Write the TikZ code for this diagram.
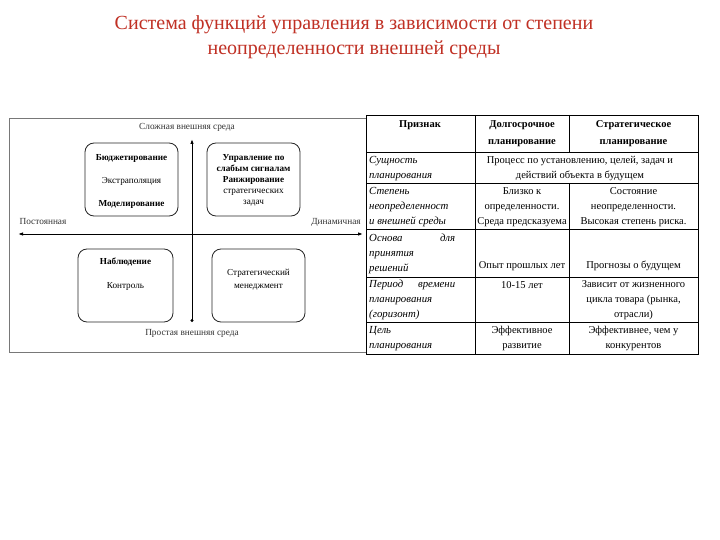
\documentclass[tikz,border=0pt]{standalone}
\usepackage{fontspec}
\setmainfont{Liberation Serif}
\usetikzlibrary{arrows.meta}
\definecolor{titlered}{RGB}{192,48,36}
\definecolor{panelgray}{RGB}{120,120,120}
\begin{document}
\begin{tikzpicture}[x=1pt,y=-1pt,
  titletxt/.style={font=\fontsize{20}{25}\selectfont, text=titlered, align=center, inner sep=0},
  paneltxt/.style={font=\fontsize{9.3}{10}\selectfont, text=black!80, inner sep=0},
  fbox/.style={draw=black!85, rounded corners=9pt, line width=0.8pt, minimum width=#1, minimum height=73pt, inner sep=0},
  boxtxt/.style={font=\fontsize{9.2}{11}\selectfont, align=center, inner sep=0},
  tabtxt/.style={font=\fontsize{10.5}{15}\selectfont, align=center, inner sep=0},
  itxt/.style={font=\fontsize{10.8}{15}\selectfont\itshape, align=left, anchor=west, inner sep=0},
  tline/.style={draw=black, line width=0.7pt},
  axis/.style={draw=black, line width=1pt}
]
\useasboundingbox (0,0) rectangle (720,540);
\fill[white] (0,0) rectangle (720,540);

% title
\node[titletxt] (title) at (354,37) {Система функций управления в зависимости от степени\\неопределенности внешней среды};

% left panel
\draw[panelgray, line width=0.8pt] (9,118) rectangle (366,352);
\node[paneltxt] (complex) at (187,127) {Сложная внешняя среда};
\node[paneltxt] (simple) at (192,333) {Простая внешняя среда};
\node[paneltxt] (const) at (43,222) {Постоянная};
\node[paneltxt] (dyn) at (336,222) {Динамичная};

\coordinate (vtop) at (192,139);
\coordinate (vbot) at (192,322);
\coordinate (hl) at (18,234);
\coordinate (hr) at (363,234);
\draw[axis, {Circle[length=3pt]}-{Latex[length=5pt,width=3.5pt]}] (vbot) -- (vtop);
\draw[axis, {Latex[length=5pt,width=3.5pt]}-{Latex[length=5pt,width=3.5pt]}] (hl) -- (hr);

\node[fbox=93pt] (tl) at (131.5,179.5) {};
\node[fbox=93pt] (tr) at (253.5,179.5) {};
\node[fbox=95pt] (bl) at (125.5,285.5) {};
\node[fbox=93pt] (br) at (258.5,285.5) {};

\node[boxtxt, font=\fontsize{9.2}{23}\selectfont] (tlt) at (131.5,181) {\textbf{Бюджетирование}\\Экстраполяция\\\textbf{Моделирование}};
\node[boxtxt] (trt) at (253.5,180) {\textbf{Управление по}\\\textbf{слабым сигналам}\\\textbf{Ранжирование}\\стратегических\\задач};
\node[boxtxt, font=\fontsize{9.2}{24}\selectfont] (blt) at (125.5,274) {\textbf{Наблюдение}\\Контроль};
\node[boxtxt, font=\fontsize{9.2}{13}\selectfont] (brt) at (258.5,279.5) {Стратегический\\менеджмент};

% table grid
\draw[tline] (366,115) rectangle (698,354);
\foreach \yy in {152,183,229,277,322} \draw[tline] (366,\yy) -- (698,\yy);
\draw[tline] (475,115) -- (475,354);
\draw[tline] (569,115) -- (569,152);
\draw[tline] (569,183) -- (569,354);

% header
\node[tabtxt, font=\fontsize{10.5}{17}\selectfont\bfseries] (h1) at (420,125) {Признак};
\node[tabtxt, font=\fontsize{10.5}{17}\selectfont\bfseries] (h2) at (522,133.5) {Долгосрочное\\планирование};
\node[tabtxt, font=\fontsize{10.5}{17}\selectfont\bfseries] (h3) at (633.5,133.5) {Стратегическое\\планирование};

% row 1
\node[itxt] (r1a) at (369,168.5) {Сущность\\планирования};
\node[tabtxt] (r1b) at (580,168.5) {Процесс по установлению, целей, задач и\\действий объекта в будущем};

% row 2
\node[itxt] (r2a) at (369,207) {Степень\\неопределенност\\и внешней среды};
\node[tabtxt] (r2b) at (522,207) {Близко к\\определенности.\\Среда предсказуема};
\node[tabtxt] (r2c) at (633.5,207) {Состояние\\неопределенности.\\Высокая степень риска.};

% row 3
\node[itxt] (r3a) at (369,253.5) {\makebox[86pt][s]{Основа\hfill для}\\принятия\\решений};
\node[tabtxt] (r3b) at (522,266) {Опыт прошлых лет};
\node[tabtxt] (r3c) at (633.5,266) {Прогнозы о будущем};

% row 4
\node[itxt] (r4a) at (369,300) {\makebox[86pt][s]{Период\hfill времени}\\планирования\\(горизонт)};
\node[tabtxt] (r4b) at (522,285) {10-15 лет};
\node[tabtxt] (r4c) at (633.5,300) {Зависит от жизненного\\цикла товара (рынка,\\отрасли)};

% row 5
\node[itxt] (r5a) at (369,338.5) {Цель\\планирования};
\node[tabtxt] (r5b) at (522,338.5) {Эффективное\\развитие};
\node[tabtxt] (r5c) at (633.5,338.5) {Эффективнее, чем у\\конкурентов};
\end{tikzpicture}
\end{document}
